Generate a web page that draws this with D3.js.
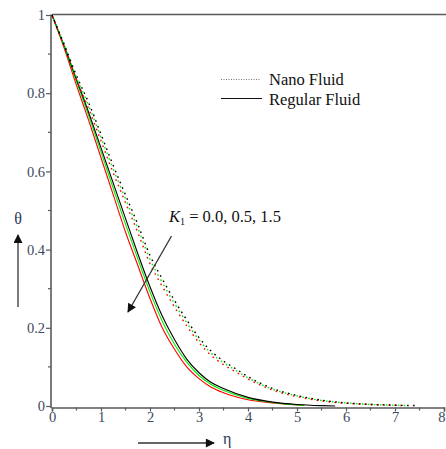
<!DOCTYPE html>
<html>
<head>
<meta charset="utf-8">
<script src="https://cdn.jsdelivr.net/npm/d3@7"></script>
<style>
  html, body { margin: 0; padding: 0; background: #fff; }
  svg { display: block; }
</style>
</head>
<body>
<svg id="chart" width="446" height="449"></svg>
<script>
// Temperature profiles θ(η) for K1 = 0.0, 0.5, 1.5
const etaTicks = [0, 1, 2, 3, 4, 5, 6, 7, 8];
const thetaTicks = [0, 0.2, 0.4, 0.6, 0.8, 1];
const kValues = ["0.0", "0.5", "1.5"];
const seriesColors = ["#000000", "#00ee00", "#ff0000"];

// Regular fluid (solid), one array per K1
const regularK00 = [[0,1],[0.25,0.92],[0.5,0.835],[0.75,0.75],[1,0.66],[1.25,0.57],[1.5,0.48],[1.75,0.39],[2,0.305],[2.25,0.23],[2.5,0.17],[2.75,0.12],[3,0.085],[3.25,0.06],[3.5,0.045],[4,0.022],[4.5,0.01],[5,0.004],[5.5,0.001],[5.78,0.0]];
const regularK05 = [[0,1],[0.25,0.918],[0.5,0.83],[0.75,0.742],[1,0.65],[1.25,0.557],[1.5,0.465],[1.75,0.377],[2,0.292],[2.25,0.217],[2.5,0.158],[2.75,0.112],[3,0.078],[3.25,0.055],[3.5,0.04],[4,0.019],[4.5,0.009],[5,0.003],[5.15,0.002]];
const regularK15 = [[0,1],[0.25,0.915],[0.5,0.82],[0.75,0.73],[1,0.635],[1.25,0.54],[1.5,0.445],[1.75,0.36],[2,0.275],[2.25,0.2],[2.5,0.145],[2.75,0.1],[3,0.07],[3.25,0.048],[3.5,0.034],[4,0.016],[4.5,0.008],[5,0.003],[5.15,0.002]];

// Nano fluid (dotted), one array per K1
const nanoK00 = [[0,1],[0.25,0.925],[0.5,0.845],[0.75,0.775],[1,0.695],[1.25,0.615],[1.5,0.54],[1.75,0.465],[2,0.385],[2.25,0.325],[2.5,0.27],[2.75,0.22],[3,0.175],[3.25,0.14],[3.5,0.115],[3.75,0.095],[4,0.075],[4.5,0.045],[5,0.027],[5.5,0.015],[6,0.008],[6.5,0.004],[7,0.002],[7.45,0.001]];
const nanoK05 = [[0,1],[0.25,0.922],[0.5,0.84],[0.75,0.768],[1,0.687],[1.25,0.606],[1.5,0.53],[1.75,0.455],[2,0.375],[2.25,0.316],[2.5,0.262],[2.75,0.213],[3,0.169],[3.25,0.135],[3.5,0.111],[3.75,0.091],[4,0.072],[4.5,0.043],[5,0.026],[5.5,0.014],[6,0.008],[6.5,0.004],[7,0.002],[7.3,0.001]];
const nanoK15 = [[0,1],[0.25,0.918],[0.5,0.834],[0.75,0.76],[1,0.678],[1.25,0.596],[1.5,0.52],[1.75,0.444],[2,0.364],[2.25,0.306],[2.5,0.253],[2.75,0.205],[3,0.162],[3.25,0.129],[3.5,0.106],[3.75,0.087],[4,0.069],[4.5,0.041],[5,0.024],[5.5,0.013],[6,0.007],[6.5,0.004],[7,0.002],[7.2,0.001]];

const regularSeries = [regularK00, regularK05, regularK15];
const nanoSeries = [nanoK00, nanoK05, nanoK15];

const svg = d3.select("#chart");
const x = d3.scaleLinear().domain([0, 8]).range([52, 444]);
const y = d3.scaleLinear().domain([0, 1]).range([406, 15]);

const axisColor = "#5a5a5a";
const labelFont = "'Liberation Serif', 'Times New Roman', serif";

// Top frame line
svg.append("line")
  .attr("x1", x(0)).attr("x2", 446)
  .attr("y1", 14.5).attr("y2", 14.5)
  .attr("stroke", axisColor).attr("stroke-width", 1.6);

// Bottom axis
const xAxis = d3.axisBottom(x).tickValues(etaTicks).tickSize(4).tickPadding(0).tickFormat(d3.format("d"));
const gx = svg.append("g").attr("transform", "translate(0,407.5)").call(xAxis);
gx.select(".domain").attr("stroke", axisColor).attr("stroke-width", 1.6);
gx.selectAll(".tick line").attr("stroke", axisColor).attr("stroke-width", 1.2);
gx.selectAll(".tick text").attr("font-family", labelFont).attr("font-size", 14.5).attr("fill", "#3c4a5a");
// last label sits at the window edge; keep it inside
gx.selectAll(".tick text").filter(d => d === 8).attr("text-anchor", "end").attr("dx", 1);
const xMinor = d3.range(0.5, 8, 1);
svg.append("g").selectAll("line").data(xMinor).join("line")
  .attr("x1", d => x(d)).attr("x2", d => x(d))
  .attr("y1", 407.5).attr("y2", 410.5)
  .attr("stroke", axisColor).attr("stroke-width", 1.2);

// Left axis
const yAxis = d3.axisLeft(y).tickValues(thetaTicks).tickSize(5).tickPadding(1).tickFormat(d => d === 0 || d === 1 ? d3.format("d")(d) : d3.format(".1f")(d));
const gy = svg.append("g").attr("transform", "translate(51,0)").call(yAxis);
gy.select(".domain").attr("stroke", axisColor).attr("stroke-width", 1.6).attr("d", `M0,${y(1) - 0.5}V408.3`);
gy.selectAll(".tick line").attr("stroke", axisColor).attr("stroke-width", 1.2);
gy.selectAll(".tick text").attr("font-family", labelFont).attr("font-size", 14.5).attr("fill", "#3c4a5a");
const yMinor = d3.range(0.1, 1, 0.2);
svg.append("g").selectAll("line").data(yMinor).join("line")
  .attr("x1", 48).attr("x2", 51)
  .attr("y1", d => y(d)).attr("y2", d => y(d))
  .attr("stroke", axisColor).attr("stroke-width", 1.2);

// Curves
const line = d3.line().x(d => x(d[0])).y(d => y(d[1])).curve(d3.curveMonotoneX);
const curves = svg.append("g");
// Draw order keeps the K1 = 0.0 curve on top
[2, 1, 0].forEach(i => {
  curves.append("path").datum(regularSeries[i])
    .attr("d", line).attr("fill", "none")
    .attr("stroke", seriesColors[i]).attr("stroke-width", 1.1);
});
[2, 1, 0].forEach(i => {
  curves.append("path").datum(nanoSeries[i])
    .attr("d", line).attr("fill", "none")
    .attr("stroke", seriesColors[i]).attr("stroke-width", 1.4)
    .attr("stroke-dasharray", "1.6,4.4")
    .attr("stroke-dashoffset", i * 2);
});

// Legend
const legend = svg.append("g").attr("font-family", labelFont).attr("font-size", 16.5).attr("fill", "#111");
legend.append("line").attr("x1", 221).attr("x2", 261).attr("y1", 79.5).attr("y2", 79.5)
  .attr("stroke", "#777").attr("stroke-width", 1).attr("stroke-dasharray", "1,1.5");
legend.append("text").attr("x", 269).attr("y", 85).text("Nano Fluid");
legend.append("line").attr("x1", 221).attr("x2", 262).attr("y1", 98.5).attr("y2", 98.5)
  .attr("stroke", "#111").attr("stroke-width", 1.2);
legend.append("text").attr("x", 269).attr("y", 104.5).text("Regular Fluid");

// Annotation for K1
const ann = svg.append("text").attr("x", 169).attr("y", 222)
  .attr("font-family", labelFont).attr("font-size", 16.5).attr("fill", "#111");
ann.append("tspan").attr("font-style", "italic").text("K");
ann.append("tspan").attr("font-size", 10).attr("dy", 3).text("1");
ann.append("tspan").attr("dy", -3).text(" = " + kValues.join(", "));

// Arrow heads
const defs = svg.append("defs");
defs.append("marker").attr("id", "head").attr("viewBox", "0 0 10 10")
  .attr("refX", 9).attr("refY", 5).attr("markerWidth", 11).attr("markerHeight", 9)
  .attr("markerUnits", "userSpaceOnUse").attr("orient", "auto")
  .append("path").attr("d", "M0,0L10,5L0,10Z").attr("fill", "#111");

svg.append("line").attr("x1", 171.5).attr("y1", 236).attr("x2", 128).attr("y2", 312)
  .attr("stroke", "#333").attr("stroke-width", 1.3).attr("marker-end", "url(#head)");

// θ label with upward arrow
svg.append("text").attr("x", 18).attr("y", 224).attr("text-anchor", "middle")
  .attr("font-family", labelFont).attr("font-size", 16).attr("fill", "#2a3a55").text("θ");
svg.append("line").attr("x1", 18).attr("y1", 307).attr("x2", 18).attr("y2", 235)
  .attr("stroke", "#333").attr("stroke-width", 1.3).attr("marker-end", "url(#head)");

// η label with rightward arrow
svg.append("line").attr("x1", 138).attr("y1", 443).attr("x2", 214).attr("y2", 443)
  .attr("stroke", "#333").attr("stroke-width", 1.3).attr("marker-end", "url(#head)");
svg.append("text").attr("x", 223).attr("y", 444)
  .attr("font-family", labelFont).attr("font-size", 16).attr("fill", "#2a3a55").text("η");
</script>
</body>
</html>
